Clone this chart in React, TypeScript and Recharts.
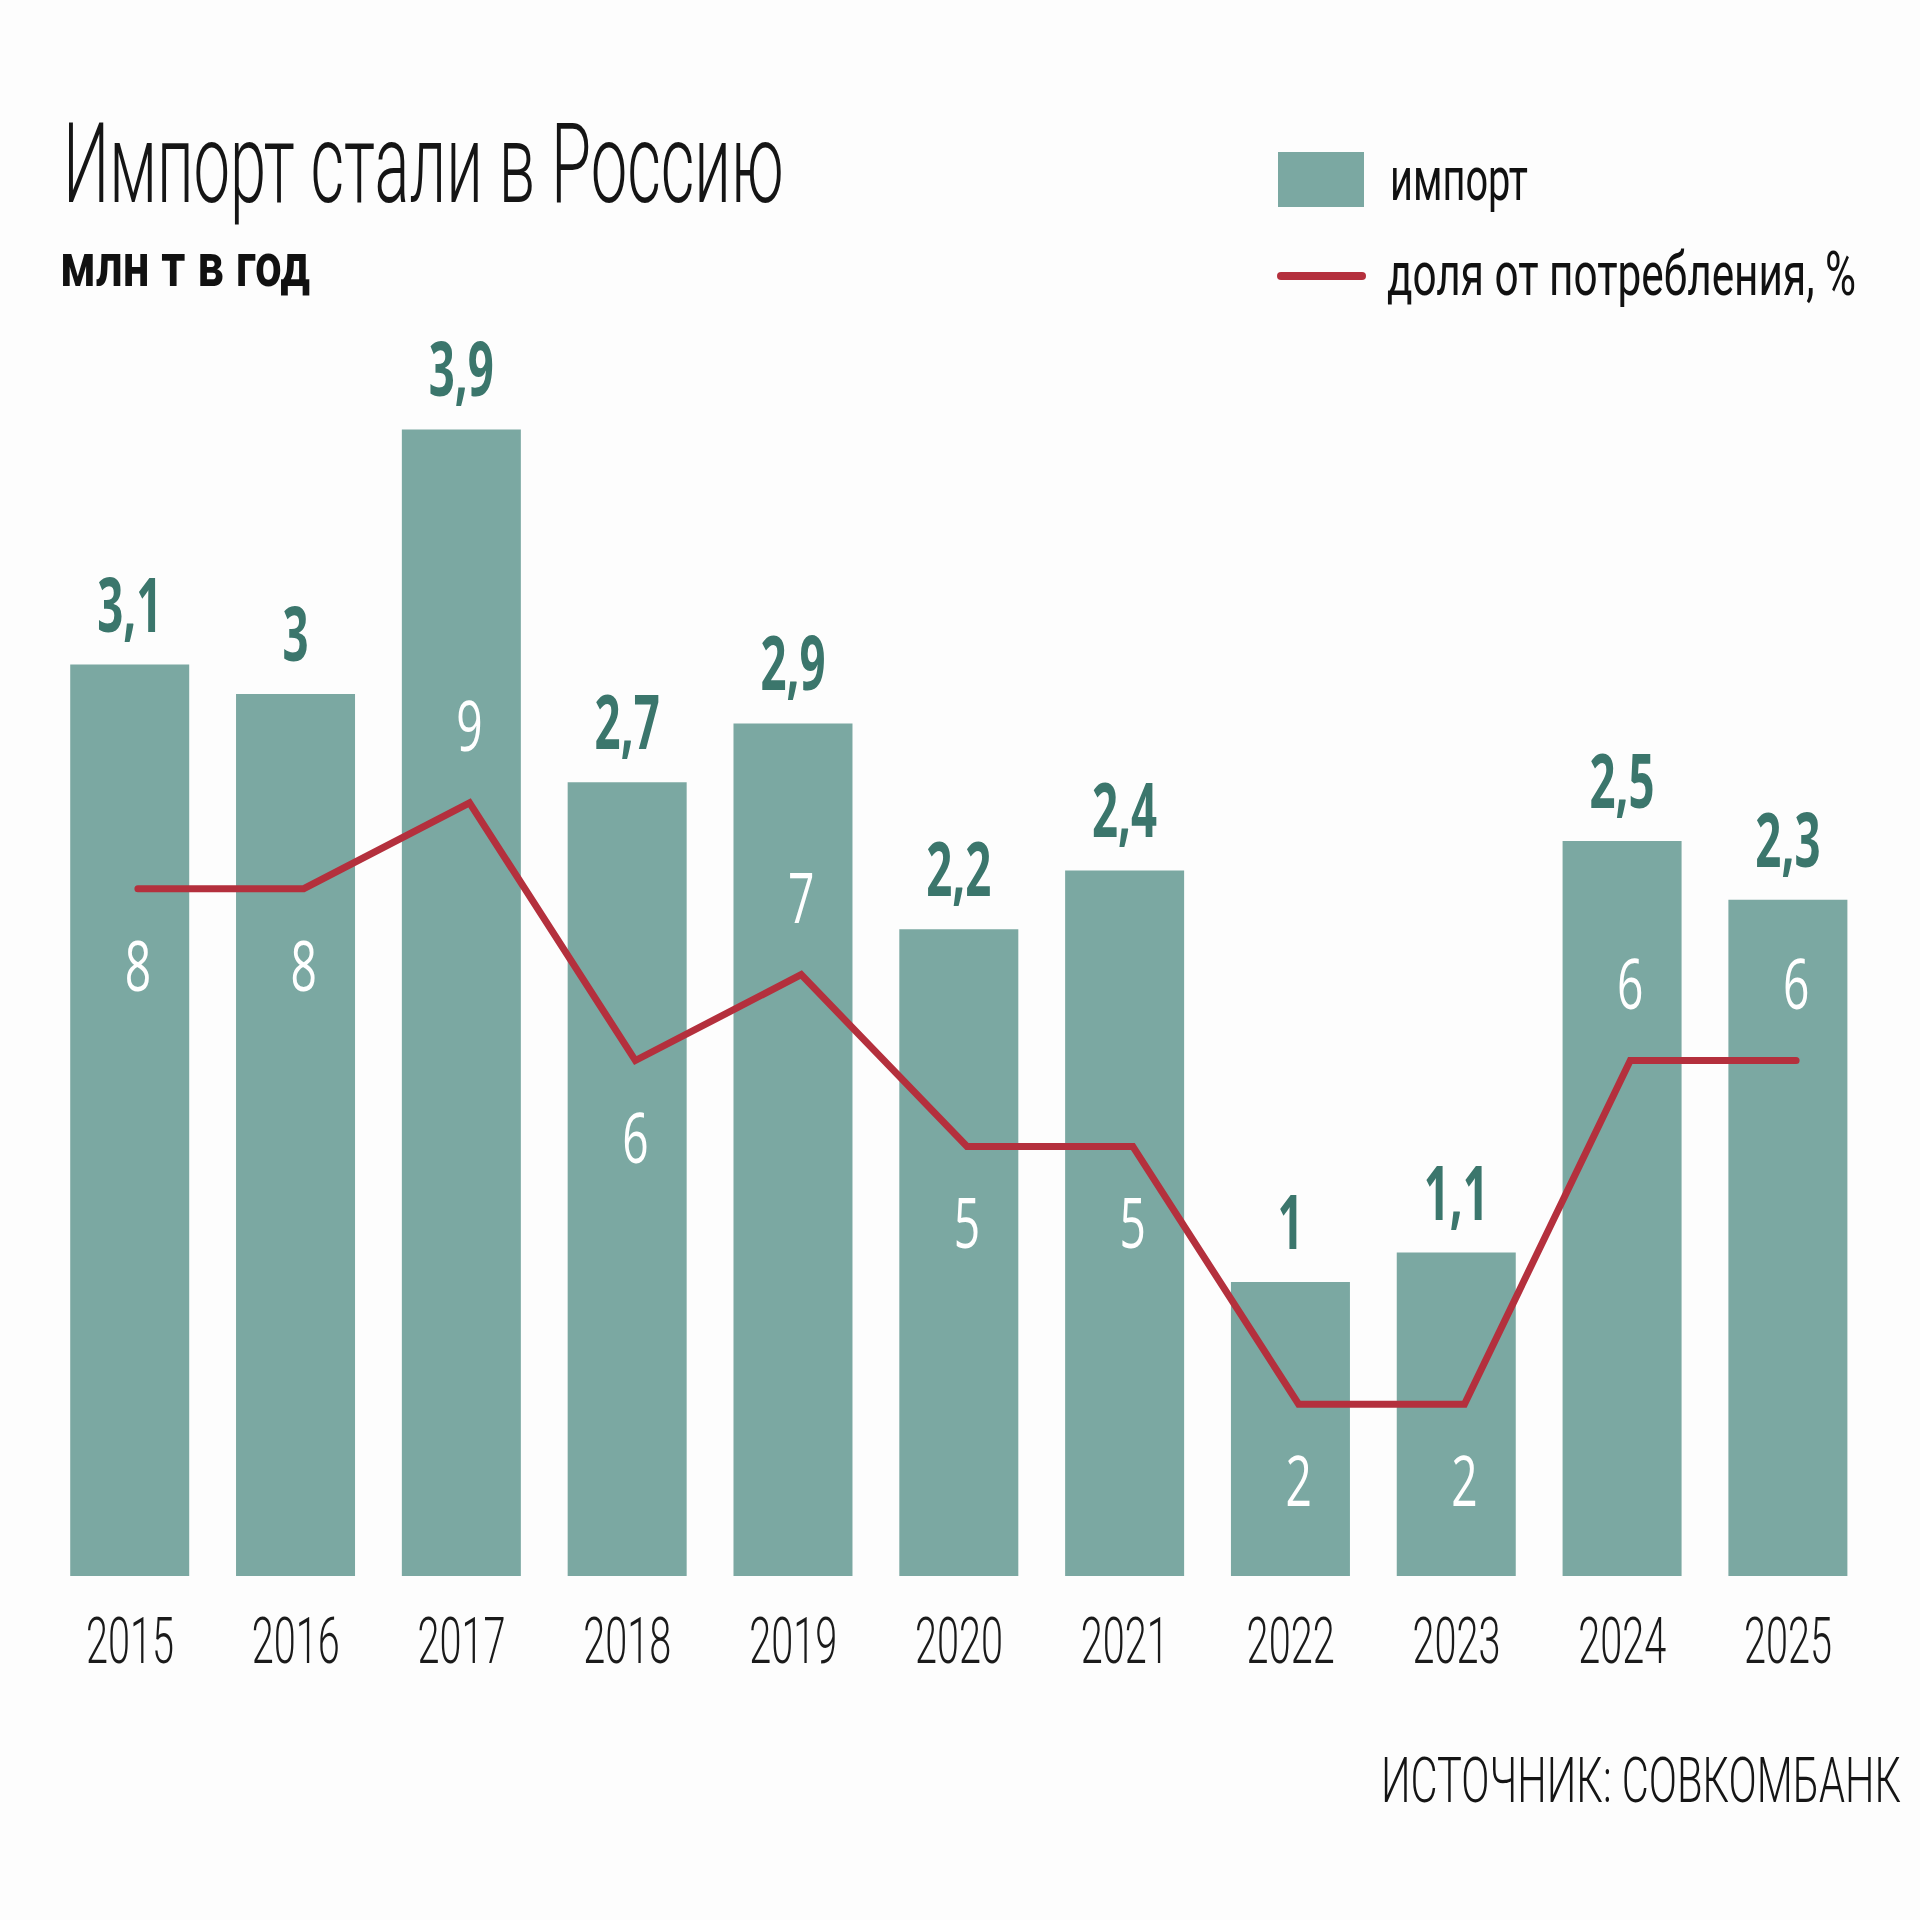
import React from 'react';
import { ComposedChart, Bar, Line, XAxis, YAxis, LabelList } from 'recharts';

const years = ['2015', '2016', '2017', '2018', '2019', '2020', '2021', '2022', '2023', '2024', '2025'];
const importMt = [3.1, 3, 3.9, 2.7, 2.9, 2.2, 2.4, 1, 1.1, 2.5, 2.3];
const sharePct = [8, 8, 9, 6, 7, 5, 5, 2, 2, 6, 6];
const shareLabelSide = ['below', 'below', 'above', 'below', 'above', 'below', 'below', 'below', 'below', 'above', 'above'];

const data = years.map((y, i) => ({ year: y, imp: importMt[i], share: sharePct[i] }));

const W = 1920;
const H = 1920;
const BAR = '#7ba8a2';
const LINE = '#b4303d';
const TEAL = '#3b766c';
const SANS = "'Open Sans', Roboto, sans-serif";
const LIGHT = "Roboto, 'Open Sans', sans-serif";

const fmt = (v: number) => String(v).replace('.', ',');

const YearTick = (props: any) => {
  const { x, y, payload } = props;
  return (
    <g transform={`translate(${x},${y + 87}) scale(0.62,1)`}>
      <text x={0} y={0} textAnchor="middle" fontFamily={LIGHT} fontWeight={300} fontSize={64} fill="#1a1a1a">
        {payload.value}
      </text>
    </g>
  );
};

const ImportLabel = (props: any) => {
  const { x, y, width, value } = props;
  return (
    <g transform={`translate(${x + width / 2},${y - 33}) scale(0.6,1)`}>
      <text x={0} y={0} textAnchor="middle" fontFamily={SANS} fontWeight={700} fontSize={76} fill={TEAL}>
        {fmt(value)}
      </text>
    </g>
  );
};

const ShareLabel = (props: any) => {
  const { x, y, value, index } = props;
  const side = shareLabelSide[index];
  const by = side === 'above' ? y - 52 : y + 102;
  return (
    <g transform={`translate(${x},${by}) scale(0.66,1)`}>
      <text x={0} y={0} textAnchor="middle" fontFamily={SANS} fontWeight={400} fontSize={70} fill="#ffffff">
        {fmt(value)}
      </text>
    </g>
  );
};

// Condensed text: horizontally scaled, with a fixed final width
const Cond = (props: any) => {
  const { x, y, sx, width, size, weight, children, fill } = props;
  return (
    <g transform={`translate(${x},${y}) scale(${sx},1)`}>
      <text
        x={0}
        y={0}
        fontFamily={LIGHT}
        fontWeight={weight}
        fontSize={size}
        fill={fill || '#111'}
        textLength={width / sx}
        lengthAdjust="spacingAndGlyphs"
      >
        {children}
      </text>
    </g>
  );
};

export default function App() {
  return (
    <div style={{ position: 'absolute', left: 0, top: 0, width: W, height: H, background: '#fdfdfd', overflow: 'hidden' }}>
      <ComposedChart
        width={W}
        height={H}
        data={data}
        margin={{ top: 253, right: 49, bottom: 244, left: 47 }}
        barCategoryGap="14%"
      >
        <XAxis
          xAxisId="bars"
          dataKey="year"
          axisLine={false}
          tickLine={false}
          tickSize={0}
          tickMargin={0}
          height={100}
          interval={0}
          tick={<YearTick />}
        />
        <XAxis xAxisId="line" dataKey="year" hide padding={{ left: 8, right: -8 }} />
        <YAxis yAxisId="l" hide domain={[0, 4.5]} />
        <YAxis yAxisId="r" orientation="right" hide domain={[0, 15.4]} />
        <Bar xAxisId="bars" yAxisId="l" dataKey="imp" name="импорт" fill={BAR} isAnimationActive={false}>
          <LabelList dataKey="imp" content={ImportLabel} />
        </Bar>
        <Line
          xAxisId="line"
          yAxisId="r"
          dataKey="share"
          name="доля от потребления, %"
          stroke={LINE}
          strokeWidth={7}
          strokeLinejoin="miter"
          strokeLinecap="round"
          dot={false}
          activeDot={false}
          type="linear"
          isAnimationActive={false}
        >
          <LabelList dataKey="share" content={ShareLabel} />
        </Line>
      </ComposedChart>
      <svg
        width={W}
        height={H}
        style={{ position: 'absolute', left: 0, top: 0, pointerEvents: 'none' }}
      >
        <Cond x={63} y={202} sx={0.6} width={721} size={111} weight={300} fill="#151515">
          Импорт стали в Россию
        </Cond>
        <Cond x={60} y={286} sx={0.74} width={250} size={62} weight={700}>
          млн т в год
        </Cond>
        <rect x={1278} y={152} width={86} height={55} fill={BAR} />
        <Cond x={1390} y={200} sx={0.65} width={138} size={62} weight={400}>
          импорт
        </Cond>
        <line x1={1281} y1={276} x2={1362} y2={276} stroke={LINE} strokeWidth={8} strokeLinecap="round" />
        <Cond x={1387} y={295} sx={0.69} width={469} size={62} weight={400}>
          доля от потребления, %
        </Cond>
        <Cond x={1381} y={1802} sx={0.67} width={520} size={63} weight={300} fill="#151515">
          ИСТОЧНИК: СОВКОМБАНК
        </Cond>
      </svg>
    </div>
  );
}
